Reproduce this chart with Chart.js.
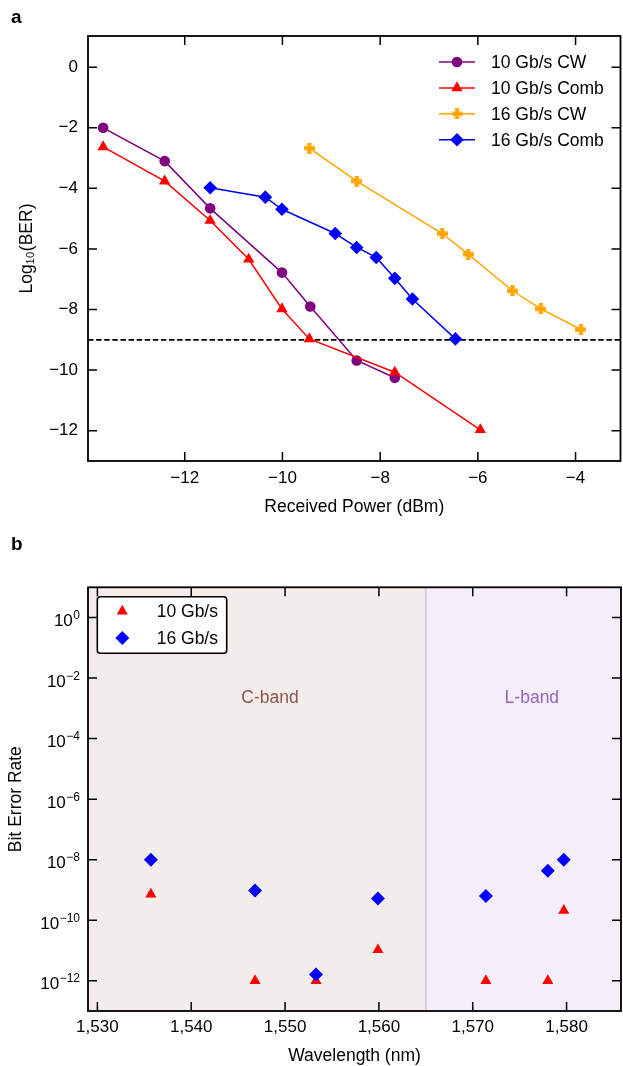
<!DOCTYPE html>
<html>
<head>
<meta charset="utf-8">
<title>BER measurements</title>
<script src="https://cdn.jsdelivr.net/npm/chart.js@4.4.0/dist/chart.umd.min.js"></script>
<style>
  html, body { margin: 0; padding: 0; background: #fff; width: 623px; height: 1066px; overflow: hidden; }
  .panel { position: absolute; left: 0; width: 623px; }
  #panelA { top: 0; height: 520px; }
  #panelB { top: 520px; height: 546px; }
  .tag { position: absolute; left: 11px; font: bold 19px "Liberation Sans", Arial, Helvetica, sans-serif; line-height: 19px; color: #000; }
</style>
</head>
<body>
<div class="panel" id="panelA"><canvas id="berPower" width="623" height="520" style="width:623px;height:520px"></canvas></div>
<div class="panel" id="panelB"><canvas id="berWavelength" width="623" height="546" style="width:623px;height:546px"></canvas></div>
<div class="tag" style="top:7px">a</div>
<div class="tag" style="top:534px">b</div>
<script>
// ---- Panel a: log10(BER) versus received optical power ----
const cw10Power   = [-13.67, -12.41, -11.48, -10.01, -9.43, -8.48, -7.70];
const cw10LogBer  = [-2.00, -3.10, -4.66, -6.78, -7.90, -9.68, -10.25];
const comb10Power  = [-13.67, -12.41, -11.48, -10.69, -10.01, -9.45, -7.70, -5.95];
const comb10LogBer = [-2.63, -3.76, -5.06, -6.34, -7.98, -8.97, -10.07, -11.97];
const cw16Power   = [-9.45, -8.48, -6.73, -6.20, -5.29, -4.71, -3.89];
const cw16LogBer  = [-2.67, -3.76, -5.49, -6.17, -7.38, -7.98, -8.66];
const comb16Power  = [-11.48, -10.35, -10.01, -8.92, -8.48, -8.08, -7.70, -7.34, -6.46];
const comb16LogBer = [-3.98, -4.29, -4.69, -5.49, -5.95, -6.28, -6.97, -7.65, -8.97];
const fecLimit = -9;
const powerTicks = [-12, -10, -8, -6, -4];
const logBerTicks = [0, -2, -4, -6, -8, -10, -12];
const powerRange = [-13.98, -3.08];
const logBerRange = [-13, 1.03];

// ---- Panel b: BER across the C and L bands ----
const wavelength10 = [1535.7, 1546.8, 1553.3, 1559.9, 1571.4, 1578.0, 1579.7];
const ber10        = [7.2e-10, 1e-12, 1e-12, 1.05e-11, 1e-12, 1e-12, 2.1e-10];
const wavelength16 = [1535.7, 1546.8, 1553.3, 1559.9, 1571.4, 1578.0, 1579.7];
const ber16        = [1e-8, 9.5e-10, 1.6e-12, 5.2e-10, 6.3e-10, 4.3e-9, 1e-8];
const wavelengthTicks = [1530, 1540, 1550, 1560, 1570, 1580];
const wavelengthTickLabels = ['1,530', '1,540', '1,550', '1,560', '1,570', '1,580'];
const berTicks = [1, 1e-2, 1e-4, 1e-6, 1e-8, 1e-10, 1e-12];
const wavelengthRange = [1529, 1585.8];
const berRange = [1e-13, 10];
const bandEdges = [1529, 1565, 1585.8];
const bandNames = ['C-band', 'L-band'];
const bandLabelAt = [[1548.4, 2.2e-3], [1576.3, 2.2e-3]];

const FAMILY = '"Liberation Sans", Arial, Helvetica, sans-serif';
Chart.defaults.font.family = FAMILY;
Chart.defaults.color = '#000';

const minus = v => (v < 0 ? '\u2212' + Math.abs(v) : String(v));
const zip = (xs, ys) => xs.map((x, i) => ({ x, y: ys[i] }));

// Filled "plus" marker used for the 16 Gb/s CW series
function plusMarker(color, size, arm) {
  const c = document.createElement('canvas');
  c.width = size; c.height = size;
  const g = c.getContext('2d');
  g.fillStyle = color;
  const o = (size - arm) / 2;
  g.fillRect(o, 0, arm, size);
  g.fillRect(0, o, size, arm);
  return c;
}

function drawMarker(ctx, ds, x, y) {
  ctx.save();
  ctx.fillStyle = ds.pointBackgroundColor;
  ctx.strokeStyle = ds.pointBackgroundColor;
  Chart.helpers.drawPoint(ctx, { pointStyle: ds.pointStyle, radius: ds.pointRadius, rotation: 0, borderWidth: 0 }, x, y);
  ctx.restore();
}

// Box frame on all four sides with inward-pointing tick marks
const frameTicks = {
  id: 'frameTicks',
  afterDatasetsDraw(chart) {
    const { ctx, chartArea: a, scales: { x, y } } = chart;
    const len = 9;
    ctx.save();
    ctx.strokeStyle = '#000';
    ctx.lineWidth = 1.5;
    ctx.beginPath();
    x.ticks.forEach(t => {
      const p = x.getPixelForValue(t.value);
      ctx.moveTo(p, a.bottom); ctx.lineTo(p, a.bottom - len);
      ctx.moveTo(p, a.top); ctx.lineTo(p, a.top + len);
    });
    y.ticks.forEach(t => {
      const p = y.getPixelForValue(t.value);
      ctx.moveTo(a.left, p); ctx.lineTo(a.left + len, p);
      ctx.moveTo(a.right, p); ctx.lineTo(a.right - len, p);
    });
    ctx.stroke();
    ctx.lineWidth = 1.8;
    ctx.strokeRect(a.left, a.top, a.right - a.left, a.bottom - a.top);
    ctx.restore();
  }
};

// Legend for panel a: line + marker + label, no frame
const legendA = {
  id: 'legendA',
  afterDraw(chart) {
    const { ctx } = chart;
    const series = chart.data.datasets.filter(d => !d.isReference);
    ctx.save();
    ctx.font = '17.5px ' + FAMILY;
    ctx.textBaseline = 'middle';
    ctx.textAlign = 'left';
    series.forEach((ds, i) => {
      const yy = 62 + i * 25.9;
      ctx.strokeStyle = ds.borderColor;
      ctx.lineWidth = ds.borderWidth;
      ctx.beginPath(); ctx.moveTo(439, yy); ctx.lineTo(475, yy); ctx.stroke();
      drawMarker(ctx, ds, 457, yy);
      ctx.fillStyle = '#000';
      ctx.fillText(ds.label, 491, yy + 1);
    });
    ctx.restore();
  }
};

function seriesA(label, xs, ys, color, style, radius, order) {
  return {
    label, data: zip(xs, ys), showLine: true,
    borderColor: color, borderWidth: 1.5,
    pointStyle: style, pointRadius: radius, pointBackgroundColor: color,
    pointBorderWidth: 0, pointHoverRadius: radius, order
  };
}

const quietGrid = { display: false, drawTicks: false };

new Chart(document.getElementById('berPower'), {
  type: 'scatter',
  data: {
    datasets: [
      seriesA('10 Gb/s CW', cw10Power, cw10LogBer, '#800080', 'circle', 5.3, 4),
      seriesA('10 Gb/s Comb', comb10Power, comb10LogBer, '#ff0000', 'triangle', 6.6, 3),
      seriesA('16 Gb/s CW', cw16Power, cw16LogBer, '#ffa500', plusMarker('#ffa500', 11, 4.2), 5.5, 2),
      seriesA('16 Gb/s Comb', comb16Power, comb16LogBer, '#0000ff', 'rectRot', 6.8, 1),
      {
        label: 'FEC limit', isReference: true,
        data: [{ x: powerRange[0], y: fecLimit }, { x: powerRange[1], y: fecLimit }],
        showLine: true, borderColor: '#000', borderWidth: 1.6, borderDash: [5.5, 2.6],
        pointRadius: 0, pointHoverRadius: 0, order: 5
      }
    ]
  },
  options: {
    responsive: false, animation: false, devicePixelRatio: 1,
    layout: { autoPadding: false, padding: { top: 36, right: 2.5, bottom: 0, left: 0 } },
    plugins: { legend: { display: false }, tooltip: { enabled: false } },
    scales: {
      x: {
        type: 'linear', min: powerRange[0], max: powerRange[1],
        afterBuildTicks: s => { s.ticks = powerTicks.map(v => ({ value: v })); },
        afterFit: s => { s.height = 59; },
        grid: quietGrid, border: { display: false },
        ticks: { font: { size: 17 }, padding: 7, maxRotation: 0, callback: v => minus(v) },
        title: { display: true, text: 'Received Power (dBm)', font: { size: 17.5 }, padding: { top: 0, bottom: 2.5 } }
      },
      y: {
        type: 'linear', min: logBerRange[0], max: logBerRange[1],
        afterBuildTicks: s => { s.ticks = logBerTicks.map(v => ({ value: v })); },
        afterFit: s => { s.width = 88; },
        grid: quietGrid, border: { display: false },
        ticks: { font: { size: 17 }, padding: 10, callback: v => minus(v) },
        title: { display: true, text: 'Log\u2081\u2080(BER)', font: { size: 17.5 }, padding: { top: 17, bottom: 0 } }
      }
    }
  },
  plugins: [frameTicks, legendA]
});

// Shaded C / L band regions with their names
const bands = {
  id: 'bands',
  beforeDatasetsDraw(chart) {
    const { ctx, chartArea: a, scales: { x, y } } = chart;
    const fills = ['rgba(140,86,75,0.11)', 'rgba(148,103,189,0.11)'];
    const inks = ['#8c564b', '#9467bd'];
    ctx.save();
    for (let i = 0; i < 2; i++) {
      const x0 = x.getPixelForValue(bandEdges[i]);
      const x1 = x.getPixelForValue(bandEdges[i + 1]);
      ctx.fillStyle = fills[i];
      ctx.fillRect(x0, a.top, x1 - x0, a.bottom - a.top);
    }
    const xb = x.getPixelForValue(bandEdges[1]);
    ctx.strokeStyle = 'rgba(190,160,200,0.45)';
    ctx.lineWidth = 2;
    ctx.beginPath(); ctx.moveTo(xb, a.top); ctx.lineTo(xb, a.bottom); ctx.stroke();
    ctx.font = '17.5px ' + FAMILY;
    ctx.textAlign = 'center';
    ctx.textBaseline = 'middle';
    bandNames.forEach((name, i) => {
      ctx.fillStyle = inks[i];
      ctx.fillText(name, x.getPixelForValue(bandLabelAt[i][0]), y.getPixelForValue(bandLabelAt[i][1]));
    });
    ctx.restore();
  }
};

// Decade labels written as 10 with a raised exponent
const decadeLabels = {
  id: 'decadeLabels',
  afterDraw(chart) {
    const { ctx, chartArea: a, scales: { y } } = chart;
    const right = a.left - 8;
    ctx.save();
    ctx.fillStyle = '#000';
    ctx.textAlign = 'right';
    ctx.textBaseline = 'alphabetic';
    y.ticks.forEach(t => {
      const p = y.getPixelForValue(t.value);
      const exp = minus(Math.round(Math.log10(t.value)));
      ctx.font = '12px ' + FAMILY;
      ctx.fillText(exp, right, p + 1.5);
      const w = ctx.measureText(exp).width;
      ctx.font = '17px ' + FAMILY;
      ctx.fillText('10', right - w - 0.5, p + 8.5);
    });
    ctx.restore();
  }
};

// Framed legend for panel b (markers only)
const legendB = {
  id: 'legendB',
  afterDraw(chart) {
    const { ctx, chartArea: a } = chart;
    const bx = a.left + 9.3, by = a.top + 9.4, bw = 129.4, bh = 56.6;
    ctx.save();
    ctx.fillStyle = '#fff';
    ctx.strokeStyle = '#000';
    ctx.lineWidth = 1.6;
    ctx.beginPath();
    ctx.roundRect(bx, by, bw, bh, 3);
    ctx.fill(); ctx.stroke();
    ctx.font = '17.5px ' + FAMILY;
    ctx.textAlign = 'left';
    ctx.textBaseline = 'middle';
    chart.data.datasets.forEach((ds, i) => {
      const yy = by + 14.5 + i * 26.7;
      drawMarker(ctx, ds, bx + 25, yy);
      ctx.fillStyle = '#000';
      ctx.fillText(ds.label, bx + 59.4, yy + 1);
    });
    ctx.restore();
  }
};

new Chart(document.getElementById('berWavelength'), {
  type: 'scatter',
  data: {
    datasets: [
      { label: '10 Gb/s', data: zip(wavelength10, ber10), pointStyle: 'triangle', pointRadius: 6.4,
        pointHoverRadius: 6.4, pointBackgroundColor: '#ff0000', borderColor: '#ff0000', pointBorderWidth: 0, order: 2 },
      { label: '16 Gb/s', data: zip(wavelength16, ber16), pointStyle: 'rectRot', pointRadius: 7,
        pointHoverRadius: 7, pointBackgroundColor: '#0000ff', borderColor: '#0000ff', pointBorderWidth: 0, order: 1 }
    ]
  },
  options: {
    responsive: false, animation: false, devicePixelRatio: 1,
    layout: { autoPadding: false, padding: { top: 67.3, right: 2, bottom: 0, left: 0 } },
    plugins: { legend: { display: false }, tooltip: { enabled: false } },
    scales: {
      x: {
        type: 'linear', min: wavelengthRange[0], max: wavelengthRange[1],
        afterBuildTicks: s => { s.ticks = wavelengthTicks.map(v => ({ value: v })); },
        afterFit: s => { s.height = 55; },
        grid: quietGrid, border: { display: false },
        ticks: { font: { size: 17 }, padding: 6.5, maxRotation: 0,
                 callback: v => wavelengthTickLabels[wavelengthTicks.indexOf(v)] },
        title: { display: true, text: 'Wavelength (nm)', font: { size: 17.5 }, padding: { top: 0, bottom: -1 } }
      },
      y: {
        type: 'logarithmic', min: berRange[0], max: berRange[1],
        afterBuildTicks: s => { s.ticks = berTicks.map(v => ({ value: v })); },
        afterFit: s => { s.width = 88; },
        grid: quietGrid, border: { display: false },
        ticks: { display: false },
        title: { display: true, text: 'Bit Error Rate', font: { size: 17.5 }, padding: { top: 5.5, bottom: 0 } }
      }
    }
  },
  plugins: [bands, frameTicks, decadeLabels, legendB]
});
</script>
</body>
</html>
